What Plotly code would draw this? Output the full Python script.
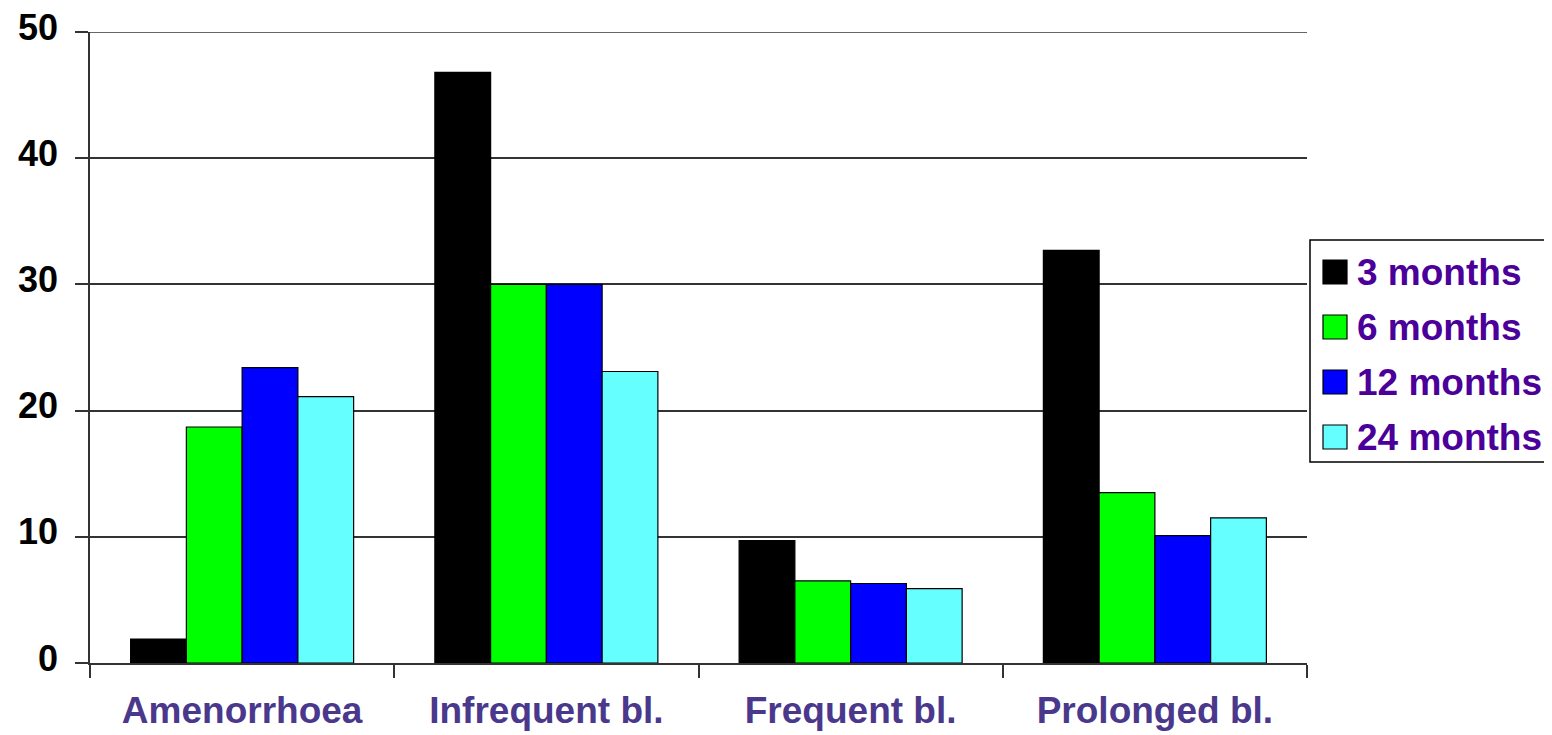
import plotly.graph_objects as go

categories = ["Amenorrhoea", "Infrequent bl.", "Frequent bl.", "Prolonged bl."]
series_names = ["3 months", "6 months", "12 months", "24 months"]
m3 = [1.9, 46.8, 9.7, 32.7]
m6 = [18.7, 30.0, 6.5, 13.5]
m12 = [23.4, 30.0, 6.3, 10.1]
m24 = [21.1, 23.1, 5.9, 11.5]
y_ticks = [0, 10, 20, 30, 40, 50]

series_values = [m3, m6, m12, m24]
colors = ["#000000", "#00FF00", "#0000FF", "#66FFFF"]

OFF = 8  # page body margin
W, H = 1552 - OFF, 735 - OFF
L, R, T, B = 90 - OFF, 245, 32 - OFF, 72
PW, PH = W - L - R, H - T - B

def px_x(x):
    return (x - OFF - L) / PW

def px_y(y):
    return (H - B - (y - OFF)) / PH

FONT = "Liberation Sans, Arial, sans-serif"

fig = go.Figure()
for name, vals, col in zip(series_names, series_values, colors):
    fig.add_trace(go.Bar(
        x=categories, y=vals, name=name,
        marker=dict(color=col, line=dict(color="#000000", width=1.2)),
        showlegend=False,
    ))

shapes = []
annotations = []
# top gridline (plotly drops gridlines at the very edge of the range)
shapes.append(dict(type="line", xref="paper", yref="y", x0=0, x1=1,
                   y0=y_ticks[-1], y1=y_ticks[-1],
                   line=dict(color="#333333", width=1.5), layer="below"))
# legend box
shapes.append(dict(type="rect", xref="paper", yref="paper",
                   x0=px_x(1310), x1=px_x(1551), y0=px_y(462), y1=px_y(240),
                   line=dict(color="#000000", width=1.5), fillcolor="white", layer="above"))
row_centers = [272, 327, 382, 437]
for name, col, cy in zip(series_names, colors, row_centers):
    shapes.append(dict(type="rect", xref="paper", yref="paper",
                       x0=px_x(1323), x1=px_x(1347), y0=px_y(cy + 12), y1=px_y(cy - 12),
                       line=dict(color="#000000", width=1.2), fillcolor=col, layer="above"))
    annotations.append(dict(xref="paper", yref="paper", x=px_x(1355), y=px_y(cy),
                            xanchor="left", yanchor="middle", text="<b>%s</b>" % name,
                            showarrow=False,
                            font=dict(family=FONT, size=37, color="#4B0099")))

fig.update_layout(
    width=W, height=H,
    margin=dict(l=L, r=R, t=T, b=B, autoexpand=False),
    paper_bgcolor="white", plot_bgcolor="white",
    barmode="group", bargap=0.267, bargroupgap=0,
    shapes=shapes, annotations=annotations,
    showlegend=False,
)
fig.update_yaxes(
    range=[0, 50], tickvals=y_ticks, ticktext=["<b>%d</b>" % v for v in y_ticks],
    showgrid=True, gridcolor="#333333", gridwidth=1.5,
    ticks="outside", ticklen=13, tickcolor="#333333", tickwidth=1.5,
    showline=True, linecolor="#333333", linewidth=1.5,
    zeroline=False,
    tickfont=dict(family=FONT, size=36, color="#000000"),
    ticklabelstandoff=10, ticklabelshift=-5, ticklabeloverflow="allow",
)
fig.update_xaxes(
    tickson="boundaries", ticks="outside", ticklen=13, tickcolor="#333333", tickwidth=1.5,
    showline=True, linecolor="#333333", linewidth=1.5,
    ticktext=["<b>%s</b>" % c for c in categories], tickvals=categories,
    tickfont=dict(family=FONT, size=37, color="#4A388C"),
    ticklabelstandoff=14,
)

fig.write_html("out.html")
